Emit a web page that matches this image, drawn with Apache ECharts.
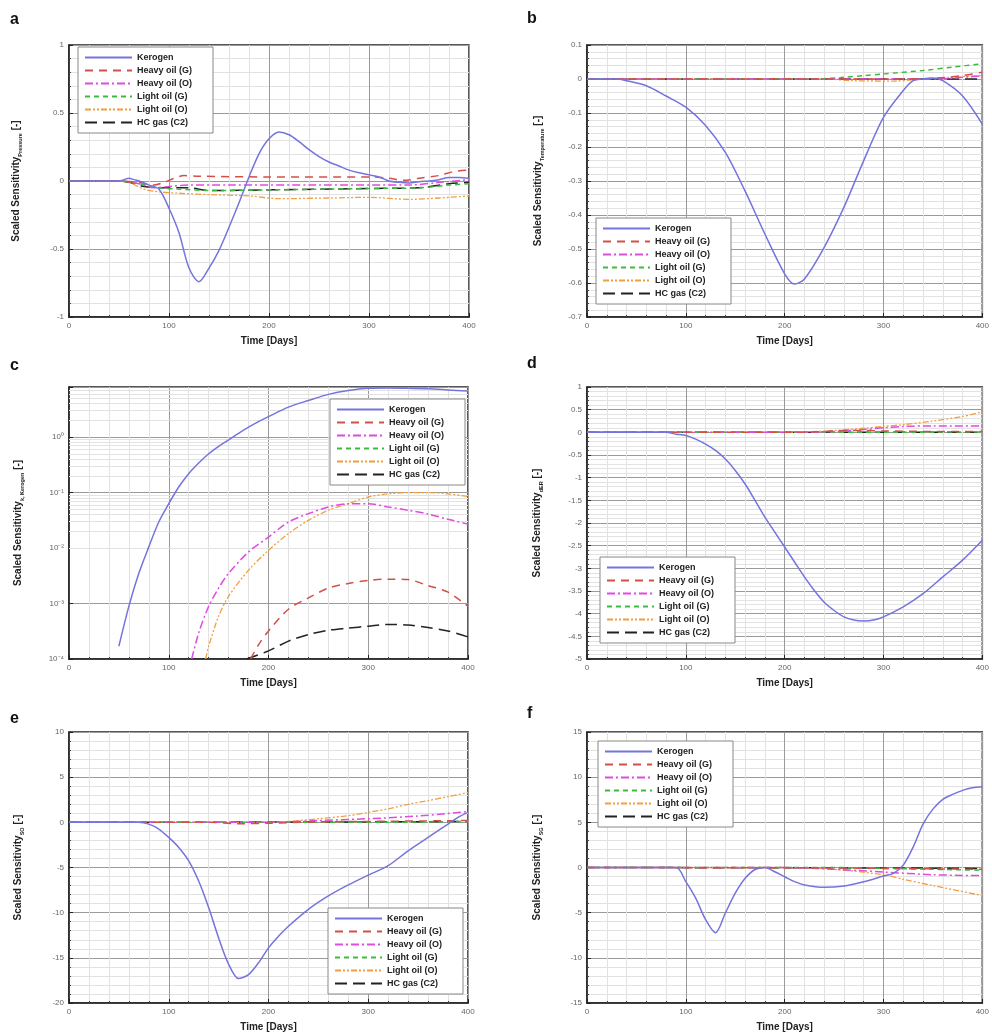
<!DOCTYPE html>
<html>
<head>
<meta charset="utf-8">
<script src="https://cdn.jsdelivr.net/npm/echarts@6/dist/echarts.min.js"></script>
<style>
html,body{margin:0;padding:0;background:#fff;}
#chart{width:992px;height:1036px;}
</style>
</head>
<body>
<div id="chart"></div>
<script>
// ---------- DATA ----------
const seriesNames = ['Kerogen','Heavy oil (G)','Heavy oil (O)','Light oil (G)','Light oil (O)','HC gas (C2)'];
const panelLetters = ['a','b','c','d','e','f'];
const ySubscripts = ['Pressure','Temperature','k, Kerogen','dER','SO','SG'];
const xTicks = [0,100,200,300,400];

// a : Pressure
const aKerogen = [[0,0],[50,0],[55,0.01],[60,0.02],[65,0.01],[70,0],[80,-0.03],[90,-0.06],[100,-0.2],[110,-0.38],[120,-0.64],[130,-0.74],[140,-0.64],[150,-0.51],[160,-0.34],[170,-0.16],[180,0.03],[190,0.2],[200,0.31],[210,0.36],[220,0.34],[230,0.29],[240,0.23],[250,0.18],[260,0.14],[270,0.11],[280,0.08],[290,0.06],[300,0.045],[310,0.03],[320,0.0],[330,-0.01],[340,-0.015],[350,-0.005],[360,0.0],[370,0.01],[380,0.025],[390,0.025],[400,0.02]];
const aHeavyG = [[0,0],[50,0],[70,-0.01],[85,-0.03],[95,-0.01],[105,0.02],[115,0.04],[130,0.035],[200,0.03],[300,0.03],[320,0.02],[335,0.005],[350,0.02],[370,0.04],[385,0.07],[400,0.08]];
const aHeavyO = [[0,0],[50,0],[70,-0.02],[85,-0.05],[100,-0.04],[120,-0.03],[160,-0.03],[250,-0.03],[340,-0.03],[370,-0.01],[400,0.01]];
const aLightG = [[0,0],[50,0],[70,-0.02],[90,-0.05],[110,-0.06],[140,-0.07],[200,-0.065],[300,-0.055],[350,-0.05],[380,-0.03],[400,-0.02]];
const aLightO = [[0,0],[50,0],[60,-0.01],[75,-0.06],[90,-0.08],[110,-0.09],[140,-0.1],[180,-0.11],[210,-0.13],[260,-0.125],[300,-0.12],[340,-0.135],[370,-0.125],[400,-0.11]];
const aHCgas = [[0,0],[50,0],[60,-0.01],[75,-0.04],[90,-0.05],[120,-0.05],[140,-0.07],[200,-0.065],[300,-0.055],[350,-0.05],[380,-0.02],[400,-0.01]];

// b : Temperature
const bKerogen = [[0,0],[30,0],[40,-0.005],[60,-0.02],[80,-0.05],[100,-0.083],[120,-0.137],[140,-0.216],[160,-0.33],[180,-0.456],[200,-0.573],[210,-0.603],[220,-0.588],[240,-0.495],[260,-0.377],[280,-0.24],[300,-0.113],[320,-0.034],[330,-0.005],[340,0.0],[350,0.003],[360,-0.005],[380,-0.05],[400,-0.133]];
const bHeavyG = [[0,0],[300,0],[350,0.002],[380,0.01],[400,0.02]];
const bHeavyO = [[0,0],[300,0],[350,0.0],[400,0.01]];
const bLightG = [[0,0],[230,0],[260,0.005],[280,0.01],[300,0.015],[340,0.025],[370,0.035],[400,0.045]];
const bLightO = [[0,0],[240,0],[270,-0.005],[310,-0.006],[340,0],[370,0.005],[400,0.01]];
const bHCgas = [[0,0],[400,0]];

// c : k Kerogen (log)
const cKerogen = [[50,1.7e-4],[60,8.9e-4],[70,3.5e-3],[80,0.0105],[90,0.0295],[100,0.063],[110,0.126],[120,0.219],[130,0.34],[140,0.5],[150,0.68],[160,0.89],[170,1.17],[180,1.51],[190,1.9],[200,2.34],[220,3.47],[240,4.57],[260,5.89],[280,6.92],[300,7.59],[320,7.69],[340,7.59],[360,7.41],[380,7.08],[400,6.76]];
const cHeavyG = [[182,1e-4],[190,1.8e-4],[200,3.2e-4],[220,7.9e-4],[240,1.26e-3],[260,1.9e-3],[280,2.3e-3],[300,2.6e-3],[320,2.75e-3],[340,2.7e-3],[360,2.1e-3],[380,1.6e-3],[400,8.9e-4]];
const cHeavyO = [[123,1e-4],[130,2.95e-4],[140,8.9e-4],[150,1.9e-3],[160,3.5e-3],[180,8.5e-3],[200,0.0158],[220,0.0295],[240,0.0417],[260,0.055],[280,0.063],[300,0.063],[320,0.055],[340,0.048],[360,0.041],[380,0.033],[400,0.027]];
const cLightG = [];
const cLightO = [[137,1e-4],[140,1.7e-4],[150,5.9e-4],[160,1.35e-3],[180,4.0e-3],[200,9.1e-3],[220,0.0182],[240,0.0316],[260,0.048],[280,0.063],[300,0.083],[320,0.095],[340,0.1],[360,0.1],[380,0.095],[400,0.085]];
const cHCgas = [[178,1e-4],[200,1.4e-4],[220,2.1e-4],[240,2.75e-4],[260,3.3e-4],[280,3.6e-4],[300,3.9e-4],[320,4.2e-4],[340,4.1e-4],[360,3.7e-4],[380,3.2e-4],[400,2.5e-4]];

// d : dER
const dKerogen = [[0,0],[80,0],[90,-0.04],[100,-0.07],[110,-0.15],[120,-0.26],[130,-0.4],[140,-0.59],[150,-0.84],[160,-1.14],[170,-1.5],[180,-1.87],[190,-2.2],[200,-2.53],[210,-2.86],[220,-3.19],[230,-3.49],[240,-3.75],[250,-3.93],[260,-4.07],[270,-4.14],[280,-4.16],[290,-4.14],[300,-4.07],[320,-3.85],[340,-3.56],[360,-3.19],[380,-2.82],[400,-2.38]];
const dHeavyG = [[0,0],[220,0],[240,0.02],[260,0.04],[280,0.04],[300,0.03],[350,0.02],[400,0.02]];
const dHeavyO = [[0,0],[220,0],[250,0.02],[280,0.06],[300,0.1],[320,0.13],[350,0.14],[400,0.14]];
const dLightG = [[0,0],[300,0],[400,0.01]];
const dLightO = [[0,0],[200,0],[220,0.01],[250,0.04],[280,0.09],[300,0.13],[320,0.17],[350,0.25],[380,0.35],[400,0.45]];
const dHCgas = [[0,0],[400,0]];

// e : SO
const eKerogen = [[0,0],[70,0],[80,-0.2],[90,-0.74],[100,-1.67],[110,-2.78],[120,-4.26],[130,-6.5],[140,-9.44],[150,-12.8],[160,-15.7],[170,-17.3],[180,-16.85],[190,-15.55],[200,-13.9],[210,-12.6],[220,-11.5],[240,-9.63],[260,-8.15],[280,-6.93],[300,-5.85],[320,-4.8],[340,-3.15],[360,-1.67],[380,-0.19],[390,0.55],[400,1.1]];
const eHeavyG = [[0,0],[140,0],[170,-0.15],[200,-0.1],[250,0.05],[300,0.1],[400,0.2]];
const eHeavyO = [[0,0],[200,0],[250,0.2],[300,0.4],[350,0.7],[400,1.2]];
const eLightG = [[0,0],[300,0],[400,0.1]];
const eLightO = [[0,0],[200,0],[220,0.1],[250,0.4],[280,0.74],[300,1.1],[320,1.5],[340,2.0],[360,2.4],[380,2.85],[400,3.3]];
const eHCgas = [[0,0],[300,0.05],[400,0.1]];

// f : SG
const fKerogen = [[0,0],[90,0],[100,-1.57],[110,-3.4],[120,-5.77],[130,-7.23],[140,-5.04],[150,-2.85],[160,-1.2],[170,-0.22],[180,0],[190,-0.47],[200,-1.02],[210,-1.57],[220,-1.93],[240,-2.19],[260,-2.04],[280,-1.57],[300,-0.95],[310,-0.66],[320,0.26],[330,2.26],[340,4.8],[350,6.46],[360,7.55],[370,8.1],[380,8.54],[390,8.83],[400,8.94]];
const fHeavyG = [[0,0],[250,-0.05],[300,-0.1],[400,-0.2]];
const fHeavyO = [[0,0],[200,0],[250,-0.2],[300,-0.5],[350,-0.8],[400,-0.9]];
const fLightG = [[0,0],[250,0],[300,-0.1],[350,-0.2],[400,-0.3]];
const fLightO = [[0,0],[200,0],[250,-0.2],[300,-0.8],[320,-1.3],[350,-2.0],[400,-3.1]];
const fHCgas = [[0,0],[300,-0.05],[400,-0.1]];

// y-axis ranges per panel
const yRanges = [
  {min:-1, max:1, interval:0.5},
  {min:-0.7, max:0.1, interval:0.1},
  {min:1e-4, max:8, log:true},
  {min:-5, max:1, interval:0.5},
  {min:-20, max:10, interval:5},
  {min:-15, max:15, interval:5}
];

const panelData = [
  [aKerogen,aHeavyG,aHeavyO,aLightG,aLightO,aHCgas],
  [bKerogen,bHeavyG,bHeavyO,bLightG,bLightO,bHCgas],
  [cKerogen,cHeavyG,cHeavyO,cLightG,cLightO,cHCgas],
  [dKerogen,dHeavyG,dHeavyO,dLightG,dLightO,dHCgas],
  [eKerogen,eHeavyG,eHeavyO,eLightG,eLightO,eHCgas],
  [fKerogen,fHeavyG,fHeavyO,fLightG,fLightO,fHCgas]
];

// ---------- LAYOUT / STYLE ----------
const FONT = '"Liberation Sans", Arial, sans-serif';
const grids = [
  {left:69, top:45, width:400, height:272},
  {left:587, top:45, width:399, height:272},
  {left:69, top:387, width:399, height:272},
  {left:587, top:387, width:399, height:272},
  {left:69, top:732, width:399, height:271},
  {left:587, top:732, width:399, height:271}
];
const letterPos = [[10,12],[527,11],[10,358],[527,356],[10,711],[527,706]];
const legendPos = [[78,47],[596,218],[330,399],[600,557],[328,908],[598,741]];
const nameGaps = [48,44,46,45,46,45];

const styles = [
  {color:'#7474de', type:'solid', width:1.5},
  {color:'#cf5149', type:[8,6], width:1.5},
  {color:'#e04be0', type:[8,3,2,3], width:1.5},
  {color:'#3cbc3c', type:[5,4], width:1.5},
  {color:'#f0a040', type:[6,2,2,2,2,2], width:1.3},
  {color:'#222222', type:[12,6], width:1.5}
];

const sup = {'0':'⁰','1':'¹','2':'²','3':'³','4':'⁴','5':'⁵','-':'⁻'};
function logLabel(v){
  const e = Math.log10(v);
  const r = Math.round(e);
  if (Math.abs(e - r) > 1e-6) return '';
  return '10' + String(r).split('').map(c => sup[c]).join('');
}
// minor log gridlines at 2..9 x 10^n
const logMinor = [];
for (let n = -4; n <= 0; n++) for (let k = 2; k <= 9; k++) { const v = k * Math.pow(10, n); if (v < 8) logMinor.push(v); }

const option = {
  animation:false,
  backgroundColor:'#fff',
  textStyle:{fontFamily:FONT},
  title: panelLetters.map((t,i)=>({text:t, left:letterPos[i][0], top:letterPos[i][1], padding:0,
    textStyle:{fontFamily:FONT, fontWeight:'bold', fontSize:16, color:'#111'}})),
  grid: grids.map(g=>Object.assign({show:true, borderColor:'#222', borderWidth:1.5, backgroundColor:'transparent', containLabel:false}, g)),
  legend: legendPos.map((p,i)=>({
    orient:'vertical', left:p[0], top:p[1], data:seriesNames,
    itemWidth:47, itemHeight:9, itemGap:2,
    padding:[5,6,5,6],
    backgroundColor:'#fff', borderColor:'#888', borderWidth:1, borderRadius:0,
    itemStyle:{opacity:0},
    textStyle:{fontFamily:FONT, fontWeight:'bold', fontSize:9, color:'#222', lineHeight:11, width:70},
    selectedMode:false
  })),
  xAxis: grids.map((g,i)=>({
    type:'value', gridIndex:i, min:xTicks[0], max:xTicks[xTicks.length-1], interval:100,
    name:'Time [Days]', nameLocation:'middle', nameGap:19,
    nameTextStyle:{fontFamily:FONT, fontWeight:'bold', fontSize:10, color:'#222'},
    axisLine:{show:true, onZero:false, lineStyle:{color:'#222', width:1.5}},
    axisTick:{show:true, inside:true, length:4, lineStyle:{color:'#222'}},
    minorTick:{show:true, splitNumber:5, length:2, lineStyle:{color:'#444'}},
    axisLabel:{fontFamily:FONT, fontSize:8, color:'#666', margin:5},
    splitLine:{show:true, lineStyle:{color:'#9a9a9a', width:1}},
    minorSplitLine:{show:true, lineStyle:{color:'#e2e2e2', width:1}}
  })),
  yAxis: yRanges.map((r,i)=>{
    const ax = {
      gridIndex:i,
      name:'{m|Scaled Sensitivity}{s|'+ySubscripts[i]+'}{m| [-]}',
      nameLocation:'middle', nameGap:nameGaps[i], nameRotate:90,
      nameTextStyle:{fontFamily:FONT, rich:{
        m:{fontFamily:FONT, fontWeight:'bold', fontSize:10, color:'#222', lineHeight:13, verticalAlign:'bottom'},
        s:{fontFamily:FONT, fontWeight:'bold', fontSize:5.5, color:'#222', lineHeight:13, verticalAlign:'bottom', padding:[0,0,-2,0]}
      }},
      axisLine:{show:true, onZero:false, lineStyle:{color:'#222', width:1.5}},
      axisTick:{show:true, inside:true, length:4, lineStyle:{color:'#222'}},
      axisLabel:{fontFamily:FONT, fontSize:8, color:'#666', margin:5},
      splitLine:{show:true, lineStyle:{color:'#9a9a9a', width:1}}
    };
    if (r.log) {
      Object.assign(ax, {type:'log', logBase:10, min:r.min, max:r.max,
        axisLabel:{fontFamily:FONT, fontSize:8, color:'#666', margin:5, formatter:logLabel},
        minorTick:{show:false}, minorSplitLine:{show:false}});
    } else {
      Object.assign(ax, {type:'value', min:r.min, max:r.max, interval:r.interval,
        minorTick:{show:true, splitNumber:5, length:2, lineStyle:{color:'#444'}},
        minorSplitLine:{show:true, lineStyle:{color:'#e2e2e2', width:1}}});
    }
    return ax;
  }),
  series: []
};

// log minor grid lines for panel c (drawn through the y axis scale)
option.series.push({
  type:'line', name:'_minor', xAxisIndex:2, yAxisIndex:2, data:[], silent:true,
  markLine:{silent:true, symbol:'none', z:1, animation:false, label:{show:false},
    lineStyle:{color:'#e2e2e2', width:1, type:'solid'},
    data: logMinor.map(v=>({yAxis:v}))}
});

// draw order: others first, Kerogen last (on top)
const order = [5,4,3,2,1,0];
panelData.forEach((arr,p)=>{
  order.forEach(k=>{
    option.series.push({
      type:'line', name:seriesNames[k], xAxisIndex:p, yAxisIndex:p,
      data:arr[k], showSymbol:false, symbol:'none', smooth:0.3,
      clip:true, z:3,
      lineStyle:{color:styles[k].color, type:styles[k].type, width:styles[k].width},
      itemStyle:{color:styles[k].color}
    });
  });
});

const chart = echarts.init(document.getElementById('chart'), null, {renderer:'canvas'});
chart.setOption(option);
</script>
</body>
</html>
